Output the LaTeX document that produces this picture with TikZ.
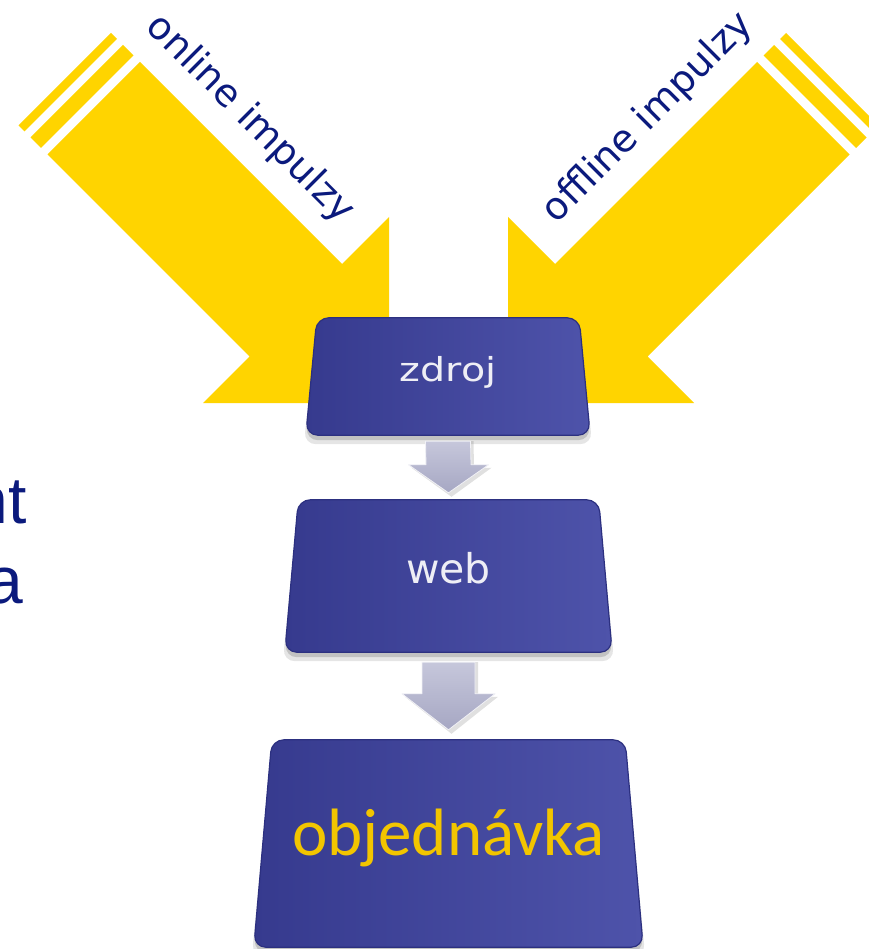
\documentclass[tikz,border=0pt]{standalone}
\usepackage{fontspec}
\setmainfont{DejaVu Sans}
\newfontfamily\boxfont{Carlito}
\newfontfamily\webfont{DejaVu Sans}
\newfontfamily\arialfont{Liberation Sans}
\usetikzlibrary{calc}
\pgfdeclarelayer{bg}
\pgfdeclarelayer{mid}
\pgfsetlayers{bg,mid,main}
\definecolor{gold}{HTML}{FFD400}
\definecolor{navy}{HTML}{0B1A7D}
\definecolor{boxdark}{HTML}{363A8E}
\definecolor{boxlight}{HTML}{4E53AA}
\definecolor{boxrim}{HTML}{2C3080}
\definecolor{boxtext}{HTML}{EEEEF5}
\definecolor{ordertext}{HTML}{F2C500}
\definecolor{greytop}{HTML}{C6C7DB}
\definecolor{greybot}{HTML}{A6A7C3}
\newcommand\trapfill[2]{%
  \begin{pgfonlayer}{mid}
    \fill[black,opacity=.10,rounded corners=12pt] ($(#1.north west)+(#2,5)$) -- ($(#1.north east)+(-#2,5)$) -- ($(#1.south east)+(2,9)$) -- ($(#1.south west)+(-2,9)$) -- cycle;
    \fill[black,opacity=.15,rounded corners=12pt] ($(#1.north west)+(#2,3)$) -- ($(#1.north east)+(-#2,3)$) -- ($(#1.south east)+(0,5)$) -- ($(#1.south west)+(0,5)$) -- cycle;
    \shade[left color=boxdark,right color=boxlight,rounded corners=12pt] ($(#1.north west)+(#2,0)$) -- ($(#1.north east)+(-#2,0)$) -- (#1.south east) -- (#1.south west) -- cycle;
    \draw[boxrim,line width=1.2pt,rounded corners=12pt] ($(#1.north west)+(#2,0)$) -- ($(#1.north east)+(-#2,0)$) -- (#1.south east) -- (#1.south west) -- cycle;
  \end{pgfonlayer}}
\newcommand\greyarr[5]{% start, end, shaft half, head half, head length
  \fill[black,opacity=.12] ($(#1)+(-#3+3,0)$) -- ($(#1)+(#3+3,0)$) -- ($(#2)+(#3+3,-#5+3)$) -- ($(#2)+(#4+3,-#5+3)$) -- ($(#2)+(3,4)$) -- ($(#2)+(-#4+3,-#5+3)$) -- ($(#2)+(-#3+3,-#5+3)$) -- cycle;
  \shade[top color=greytop,bottom color=greybot,draw=white!75!greytop,line width=0.8pt,line join=round]
    ($(#1)+(-#3,0)$) -- ($(#1)+(#3,0)$) -- ($(#2)+(#3,-#5)$) -- ($(#2)+(#4,-#5)$) -- (#2) -- ($(#2)+(-#4,-#5)$) -- ($(#2)+(-#3,-#5)$) -- cycle;}
\begin{document}
\begin{tikzpicture}[x=1pt,y=-1pt,
  boxnode/.style={inner sep=0pt,text depth=0pt,text=boxtext},
  lbl/.style={inner sep=0pt,text=navy,font=\webfont\fontsize{38}{38}\selectfont},
  sidetext/.style={anchor=base east,inner sep=0pt,text=navy,font=\arialfont\fontsize{66}{66}\selectfont},
  yellowarrow/.style={fill=gold}]
\useasboundingbox (0,0) rectangle (868,949);

% background and yellow arrows
\begin{pgfonlayer}{bg}
  \fill[white] (0,0) rectangle (868,949);
  \fill[yellowarrow] (140,62) -- (342,264) -- (389,217) -- (389,403) -- (203,403) -- (249.5,356.5) -- (47.5,154.5) -- cycle;
  \fill[yellowarrow] (133.5,55.5) -- (41,148) -- (30.5,137.5) -- (123,45) -- cycle;
  \fill[yellowarrow] (117,39) -- (24.5,131.5) -- (18.5,125.5) -- (111,33) -- cycle;
  \begin{scope}[shift={(897,0)},xscale=-1]
    \fill[yellowarrow] (140,62) -- (342,264) -- (389,217) -- (389,403) -- (203,403) -- (249.5,356.5) -- (47.5,154.5) -- cycle;
    \fill[yellowarrow] (133.5,55.5) -- (41,148) -- (30.5,137.5) -- (123,45) -- cycle;
    \fill[yellowarrow] (117,39) -- (24.5,131.5) -- (18.5,125.5) -- (111,33) -- cycle;
  \end{scope}
\end{pgfonlayer}

\node[lbl,rotate=-45] (on) at (250,119) {online impulzy};
\node[lbl,rotate=45] (off) at (648,118) {offline impulzy};

% boxes
\node[boxnode,minimum width=284pt,minimum height=117pt,text height=9pt] (b1) at (448,376.5)
  {\webfont\fontsize{33}{33}\selectfont\scalebox{1.2}[1]{zdroj}};
\node[boxnode,minimum width=327pt,minimum height=152pt,text height=14pt] (b2) at (448.5,576)
  {\webfont\fontsize{41}{41}\selectfont web};
\node[boxnode,minimum width=389pt,minimum height=207pt,text height=23pt,text=ordertext] (b3) at (448.5,843.5)
  {\boxfont\fontsize{67}{67}\selectfont objednávka};
\trapfill{b1}{11}
\trapfill{b2}{13.5}
\trapfill{b3}{18}

% grey connectors
\coordinate (a1s) at ($(b1.south)+(0,6)$);
\coordinate (a1e) at ($(b2.north)+(0,-7)$);
\coordinate (a2s) at ($(b2.south)+(0,10)$);
\coordinate (a2e) at ($(b3.north)+(0,-10)$);
\greyarr{a1s}{a1e}{22.5}{40}{28}
\greyarr{a2s}{a2e}{26.5}{46.5}{36}

% side text, cut by the page edge
\begin{scope}
\clip (0,0) rectangle (868,949);
\node[sidetext] (l1) at (27,523) {nt};
\node[sidetext] (l2) at (23,603) {a};
\end{scope}
\end{tikzpicture}
\end{document}
